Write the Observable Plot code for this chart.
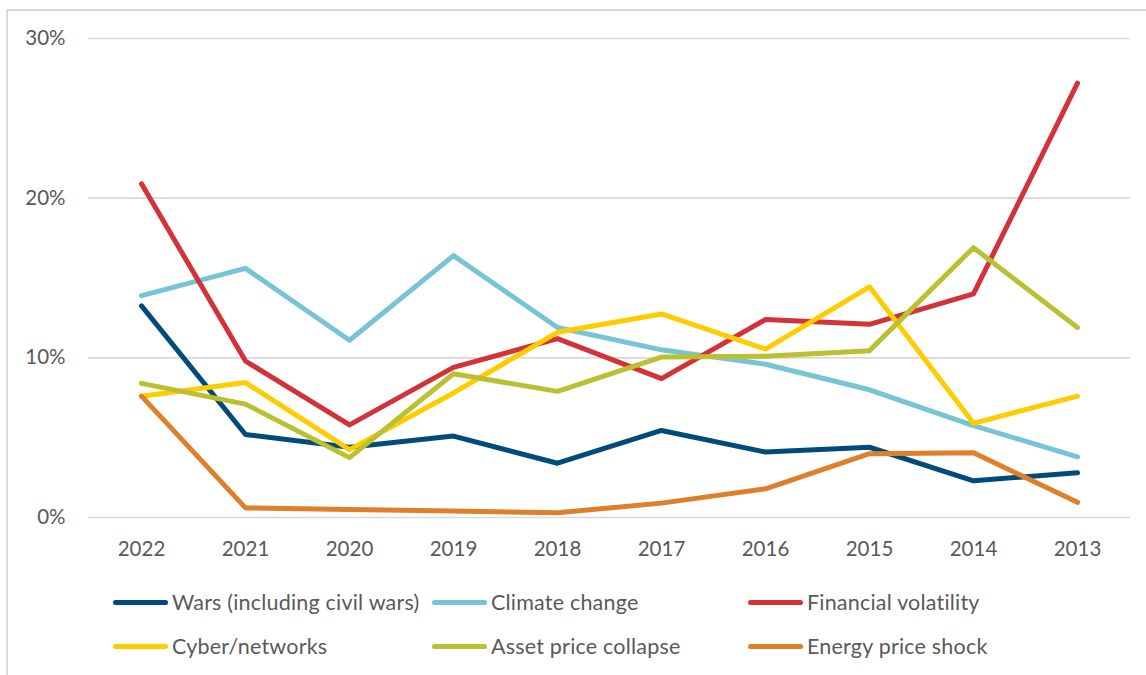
<!DOCTYPE html>
<html>
<head>
<meta charset="utf-8">
<script src="https://cdn.jsdelivr.net/npm/d3@7"></script>
<script src="https://cdn.jsdelivr.net/npm/@observablehq/plot@0.6"></script>
<style>
  html, body { margin: 0; padding: 0; background: #fff; }
  body { width: 1146px; height: 675px; position: relative; overflow: hidden; font-family: Lato, "Open Sans", sans-serif; }
  #frame { position: absolute; left: 6px; top: 9px; width: 1150px; height: 680px; border-top: 2px solid #d9d9d9; border-left: 2px solid #d9d9d9; box-sizing: border-box; }
  #chart { position: absolute; left: 0; top: 0; }
  #legend { position: absolute; left: 0; top: 0; width: 1146px; height: 675px; pointer-events: none; }
  .item { position: absolute; display: flex; align-items: center; font-size: 21.5px; color: #595959; white-space: nowrap; letter-spacing: 0.2px; }
  .sw { width: 55px; height: 5px; border-radius: 3px; margin-right: 4px; }
</style>
</head>
<body>
<div id="frame"></div>
<div id="chart"></div>
<div id="legend"></div>
<script>
const years = ["2022","2021","2020","2019","2018","2017","2016","2015","2014","2013"];
const seriesNames = ["Wars (including civil wars)","Climate change","Financial volatility","Cyber/networks","Asset price collapse","Energy price shock"];
const seriesColors = ["#004B7C","#77C4D5","#D33238","#FFCC00","#BBC033","#E07F29"];
const wars      = [13.25, 5.2, 4.4, 5.1, 3.4, 5.45, 4.1, 4.4, 2.3, 2.8];
const climate   = [13.9, 15.6, 11.1, 16.4, 11.9, 10.5, 9.6, 8.0, 5.75, 3.8];
const financial = [20.9, 9.8, 5.8, 9.4, 11.2, 8.7, 12.4, 12.1, 14.0, 27.2];
const cyber     = [7.6, 8.45, 4.25, 7.8, 11.6, 12.75, 10.55, 14.45, 5.9, 7.6];
const asset     = [8.4, 7.1, 3.75, 9.0, 7.9, 10.05, 10.1, 10.45, 16.9, 11.9];
const energy    = [7.6, 0.6, 0.5, 0.4, 0.3, 0.9, 1.8, 4.0, 4.05, 0.95];
const yTicks = [0, 10, 20, 30];

const seriesValues = [wars, climate, financial, cyber, asset, energy];
const data = [];
seriesNames.forEach((s, i) => {
  years.forEach((y, j) => data.push({series: s, year: y, value: seriesValues[i][j]}));
});

const plot = Plot.plot({
  width: 1146,
  height: 570,
  marginLeft: 88,
  marginRight: 16,
  marginTop: 38,
  marginBottom: 53,
  style: {fontFamily: "Lato, 'Open Sans', sans-serif", fontSize: "20px", color: "#595959", background: "transparent", overflow: "visible"},
  x: {type: "point", domain: years, padding: 0.5, label: null},
  y: {domain: [0, 30], label: null},
  color: {domain: seriesNames, range: seriesColors},
  marks: [
    Plot.ruleY(yTicks, {stroke: "#d9d9d9", strokeWidth: 1.6}),
    Plot.axisY({ticks: yTicks, tickSize: 0, tickPadding: 23, tickFormat: d => d + "%", fill: "#595959", fontSize: 20.5}),
    Plot.axisX({tickSize: 0, tickPadding: 24, fill: "#595959", fontSize: 20.5}),
    Plot.line(data, {x: "year", y: "value", z: "series", stroke: "series", strokeWidth: 5, strokeLinecap: "round", strokeLinejoin: "round"})
  ]
});
document.getElementById("chart").appendChild(plot);

const legend = document.getElementById("legend");
const colX = [113, 432, 748];
const rowY = [602, 646];
seriesNames.forEach((s, i) => {
  const el = document.createElement("div");
  el.className = "item";
  el.style.left = colX[i % 3] + "px";
  el.style.top = (rowY[Math.floor(i / 3)] - 14) + "px";
  el.style.height = "28px";
  el.innerHTML = `<div class="sw" style="background:${seriesColors[i]}"></div><span>${s}</span>`;
  legend.appendChild(el);
});
</script>
</body>
</html>
